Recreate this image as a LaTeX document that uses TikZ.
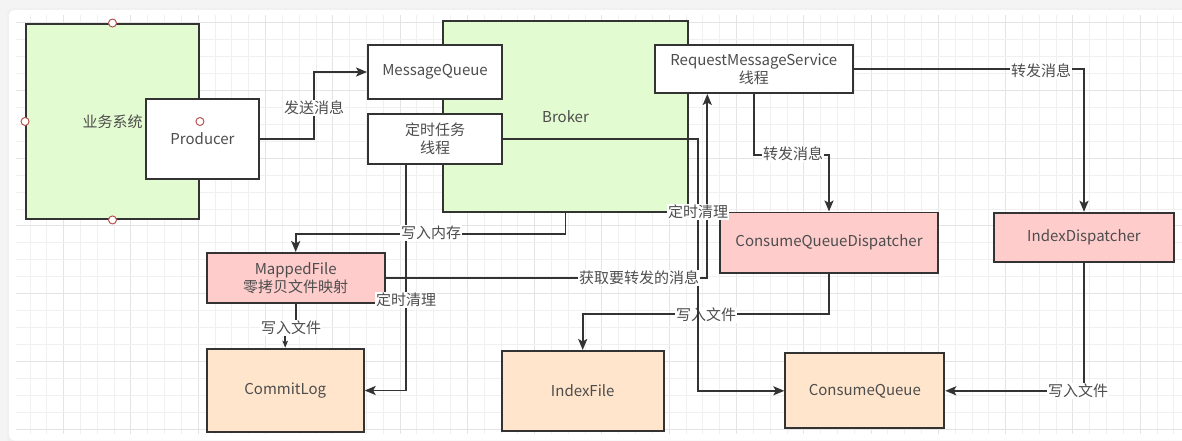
\documentclass[tikz,border=0pt]{standalone}
\usepackage{fontspec}
\setmainfont{Noto Sans CJK SC}
\usetikzlibrary{arrows.meta}
\definecolor{lc}{HTML}{333333}
\definecolor{tc}{HTML}{4D4D4D}
\definecolor{greenf}{HTML}{E3FBD0}
\definecolor{pinkf}{HTML}{FFCCCC}
\definecolor{peachf}{HTML}{FFE5CC}
\definecolor{portc}{HTML}{B85450}
\definecolor{gridminor}{HTML}{F0F0F0}
\definecolor{gridmajor}{HTML}{E4E4E4}
\definecolor{outerbg}{HTML}{F4F4F4}
\tikzset{
  nbox/.style={draw=lc, line width=1.9pt, text=tc, inner sep=0pt, align=center, anchor=center},
  lbl/.style={fill=white, text=tc, inner sep=1pt, anchor=center},
  arr/.style={draw=lc, line width=1.9pt, -{Stealth[length=11pt,width=9pt,inset=2.5pt]}},
  smallarr/.style={draw=lc, line width=1.9pt, -{Stealth[length=7pt,width=5.5pt,inset=1.5pt]}},
  portdot/.style={circle, draw=portc, fill=white, line width=1pt, minimum size=8pt, inner sep=0pt}
}
\begin{document}
\begin{tikzpicture}[x=1pt,y=-1pt,font=\fontsize{15}{18}\selectfont]
\useasboundingbox (0,0) rectangle (1182,441);
% background and card
\fill[outerbg] (0,0) rectangle (1182,441);
\fill[black!6,rounded corners=7pt] (7,8) rectangle (1200,445);
\fill[white,rounded corners=6pt] (9,10) rectangle (1200,440.5);
% grid
\begin{scope}
\clip (16,15) rectangle (1182,434);
\foreach \k in {0,...,68}{
  \pgfmathsetmacro{\gx}{30+16.82*\k}
  \pgfmathtruncatemacro{\m}{mod(\k,4)}
  \ifnum\m=2
    \draw[gridmajor,line width=1pt] (\gx,15) -- (\gx,434);
  \else
    \draw[gridminor,line width=0.8pt] (\gx,15) -- (\gx,434);
  \fi
}
\foreach \k in {0,...,24}{
  \pgfmathsetmacro{\gy}{22.7+16.93*\k}
  \pgfmathtruncatemacro{\m}{mod(\k,4)}
  \ifnum\m=0
    \draw[gridmajor,line width=1pt] (16,\gy) -- (1182,\gy);
  \else
    \draw[gridminor,line width=0.8pt] (16,\gy) -- (1182,\gy);
  \fi
}
\end{scope}
% nodes
\node[nbox,fill=greenf,minimum width=245pt,minimum height=191pt] (broker) at (565.5,116.5) {Broker};
\node[nbox,fill=greenf,minimum width=173pt,minimum height=195pt] (biz) at (112.5,121.5) {业务系统};
\node[nbox,fill=white,minimum width=113pt,minimum height=80pt] (prod) at (202.5,139) {Producer};
\node[nbox,fill=white,minimum width=134pt,minimum height=54pt] (mq) at (435,72) {MessageQueue};
\node[nbox,fill=white,minimum width=134pt,minimum height=50pt] (timer) at (435,139) {定时任务\\线程};
\node[nbox,fill=white,minimum width=198pt,minimum height=48pt] (rms) at (753.8,69) {RequestMessageService\\线程};
\node[nbox,fill=pinkf,minimum width=218pt,minimum height=60.5pt] (cqd) at (829,242.7) {ConsumeQueueDispatcher};
\node[nbox,fill=pinkf,minimum width=180pt,minimum height=49.3pt] (idd) at (1084,237.4) {IndexDispatcher};
\node[nbox,fill=pinkf,minimum width=178pt,minimum height=49.7pt] (mf) at (295.7,277.8) {MappedFile\\零拷贝文件映射};
\node[nbox,fill=peachf,minimum width=157pt,minimum height=83.6pt] (cl) at (285.2,390.5) {CommitLog};
\node[nbox,fill=peachf,minimum width=162pt,minimum height=79.7pt] (idxfile) at (582.7,390.8) {IndexFile};
\node[nbox,fill=peachf,minimum width=159pt,minimum height=75pt] (cq) at (864.8,390.8) {ConsumeQueue};
% ports of 业务系统
\node[portdot] (p1) at (biz.north) {};
\node[portdot] (p2) at (biz.south) {};
\node[portdot] (p3) at (biz.west) {};
\node[portdot] (p4) at (biz.east) {};
% edge drawn first (crossed by a later line)
\draw[arr] (cqd.south) -- ++(0,39.7) -| (idxfile.north);
\node[lbl] (l9) at (706,314.7) {写入文件};
% edges
\draw[arr] (prod.east) -- ++(54,0) |- (mq.west);
\draw[arr] (rms.east) -| (idd.north);
\draw[arr] (rms.south) -- ++(0,61.3) -| (cqd.north);
\draw[arr] (broker.south) -- ++(0,20.7) -| (mf.north);
\draw[smallarr] (mf.south) -- ++(0,25.3) -| (cl.north);
\draw[arr] ([xshift=-29.3pt]timer.south) |- (cl.east);
\draw[arr] (timer.east) -- ++(195,0) |- (cq.west);
\draw[arr] (mf.east) -| ([xshift=-46.5pt]rms.south);
\draw[arr] (idd.south) |- (cq.east);
% labels
\node[lbl] (l1) at (314,108) {发送消息};
\node[lbl] (l2) at (1041,71) {转发消息};
\node[lbl] (l3) at (793,154) {转发消息};
\node[lbl] (l4) at (431,233) {写入内存};
\node[lbl] (l5) at (291,328) {写入文件};
\node[lbl] (l6) at (406,300) {定时清理};
\node[lbl] (l7) at (698,212) {定时清理};
\node[lbl] (l8) at (639,278) {获取要转发的消息};
\node[lbl] (l10) at (1078,391) {写入文件};
\end{tikzpicture}
\end{document}
